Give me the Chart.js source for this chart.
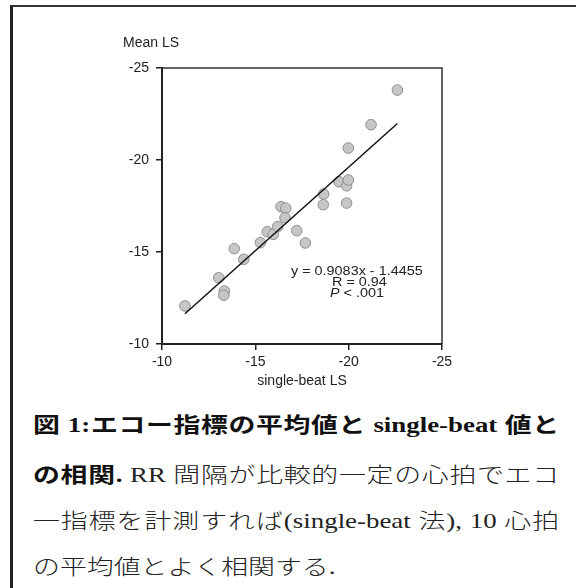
<!DOCTYPE html>
<html lang="ja">
<head>
<meta charset="utf-8">
<script src="https://cdn.jsdelivr.net/npm/chart.js@4/dist/chart.umd.min.js"></script>
<style>
  html, body { margin: 0; padding: 0; background: #fff; }
  body { width: 576px; height: 588px; position: relative; overflow: hidden; }
  #frame { position: absolute; left: 10px; top: 5px; width: 620px; height: 640px;
           border-left: 3px solid #222; border-top: 2px solid #333; box-sizing: border-box; }
  #plot { position: absolute; left: 0; top: 0; }
  #caption { position: absolute; left: 33px; top: 0; width: 411px;
             transform: scaleX(1.28); transform-origin: 0 0;
             font-family: "Liberation Serif", "Noto Sans CJK JP", serif; font-size: 21px; color: #222; }
  .ln { position: absolute; left: 0; width: 411px; height: 30px; line-height: 30px; white-space: nowrap; font-weight: 300; }
  .just { text-align: justify; text-align-last: justify; text-justify: inter-character; }
  b { font-weight: bold; color: #111; }
</style>
</head>
<body>
<div id="frame"></div>
<canvas id="plot" width="576" height="394"></canvas>
<div id="caption">
  <div class="ln just" style="top:410px"><b>図 1:エコー指標の平均値と single-beat 値と</b></div>
  <div class="ln just" style="top:460px"><b>の相関.</b> RR 間隔が比較的一定の心拍でエコ</div>
  <div class="ln just" style="top:506px">一指標を計測すれば(single-beat 法), 10 心拍</div>
  <div class="ln" style="top:552px">の平均値とよく相関する.</div>
</div>
<script>
// single-beat LS (x) and 10-beat mean LS (y), one entry per subject
const singleBeatLS = [-11.23, -13.04, -13.34, -13.31, -13.87, -14.38, -15.27, -15.64,
  -15.96, -16.20, -16.38, -16.63, -16.59, -17.22, -17.68, -18.66, -18.64, -19.48,
  -19.89, -19.98, -19.98, -19.89, -21.20, -22.61];
const meanLS = [-12.07, -13.60, -12.88, -12.65, -15.18, -14.60, -15.51, -16.10,
  -15.96, -16.38, -17.46, -17.38, -16.86, -16.16, -15.49, -18.15, -17.57, -18.82,
  -18.60, -18.91, -20.65, -17.66, -21.92, -23.80];

// regression reported in the figure
const slope = 0.9083;
const intercept = -1.4455;
const statLines = ['y = 0.9083x - 1.4455', 'R = 0.94', 'P < .001'];

// axis ranges and ticks
const axisMin = -25, axisMax = -10, tickStep = 5;
const xTitle = 'single-beat LS';
const yTitle = 'Mean LS';

const points = singleBeatLS.map((x, i) => ({ x, y: meanLS[i] }));
const xLo = Math.max(...singleBeatLS), xHi = Math.min(...singleBeatLS);
const fitLine = [xLo, xHi].map(x => ({ x, y: slope * x + intercept }));

const FONT = '"Liberation Sans", Arial, sans-serif';
const INK = '#222';

// draws a string widened a little, left-aligned at (x, y)
function wideText(ctx, str, x, y, italic) {
  ctx.save();
  ctx.translate(x, y);
  ctx.scale(1.2, 1);
  ctx.font = (italic ? 'italic ' : '') + '12px ' + FONT;
  ctx.fillText(str, 0, 0);
  const w = ctx.measureText(str).width * 1.2;
  ctx.restore();
  return w;
}

// closes the plot box and writes the y title and regression statistics
const boxAndNotes = {
  id: 'boxAndNotes',
  afterDraw(chart) {
    const { ctx, chartArea: a, scales } = chart;
    ctx.save();
    ctx.strokeStyle = '#333';
    ctx.lineWidth = 1.5;
    ctx.beginPath();
    ctx.moveTo(a.left, a.top);
    ctx.lineTo(a.right, a.top);
    ctx.lineTo(a.right, a.bottom);
    ctx.stroke();

    ctx.fillStyle = INK;
    ctx.font = '14px ' + FONT;
    ctx.textAlign = 'left';
    ctx.textBaseline = 'middle';
    ctx.fillText(yTitle, a.left - 39, a.top - 25);

    // statistics block, anchored in data space
    const sx = scales.x.getPixelForValue(-16.91);
    const sy = scales.y.getPixelForValue(-13.91);
    wideText(ctx, statLines[0], sx, sy, false);
    wideText(ctx, statLines[1], sx + 41, sy + 11, false);
    const wP = wideText(ctx, 'P', sx + 39, sy + 21.5, true);
    wideText(ctx, statLines[2].slice(1), sx + 39 + wP, sy + 21.5, false);
    ctx.restore();
  }
};

new Chart(document.getElementById('plot'), {
  type: 'scatter',
  data: {
    datasets: [
      {
        type: 'line',
        data: fitLine,
        borderColor: '#111',
        borderWidth: 1.5,
        pointRadius: 0,
        fill: false,
        order: 0
      },
      {
        data: points,
        backgroundColor: '#c6c6c6',
        borderColor: '#8e8e8e',
        borderWidth: 1,
        pointRadius: 5.3,
        order: 1
      }
    ]
  },
  options: {
    responsive: false,
    animation: false,
    events: [],
    layout: { padding: { top: 68, right: 134, left: 0, bottom: 0 } },
    plugins: { legend: { display: false }, tooltip: { enabled: false } },
    scales: {
      x: {
        type: 'linear',
        reverse: true,
        min: axisMin, max: axisMax,
        afterFit(s) { s.height = 50; },
        border: { display: true, color: INK, width: 2 },
        grid: { drawOnChartArea: false, drawTicks: true, tickLength: 6, color: INK, lineWidth: 1.5 },
        ticks: { stepSize: tickStep, padding: 4, color: INK, font: { family: FONT, size: 14 }, maxRotation: 0 },
        title: { display: true, text: xTitle, color: INK, font: { family: FONT, size: 14 }, padding: { top: 4, bottom: 4 } }
      },
      y: {
        type: 'linear',
        reverse: true,
        min: axisMin, max: axisMax,
        afterFit(s) { s.width = 162; },
        border: { display: true, color: INK, width: 2 },
        grid: { drawOnChartArea: false, drawTicks: true, tickLength: 6, color: INK, lineWidth: 1.5 },
        ticks: { stepSize: tickStep, padding: 7, color: INK, font: { family: FONT, size: 14 } }
      }
    }
  },
  plugins: [boxAndNotes]
});
</script>
</body>
</html>
